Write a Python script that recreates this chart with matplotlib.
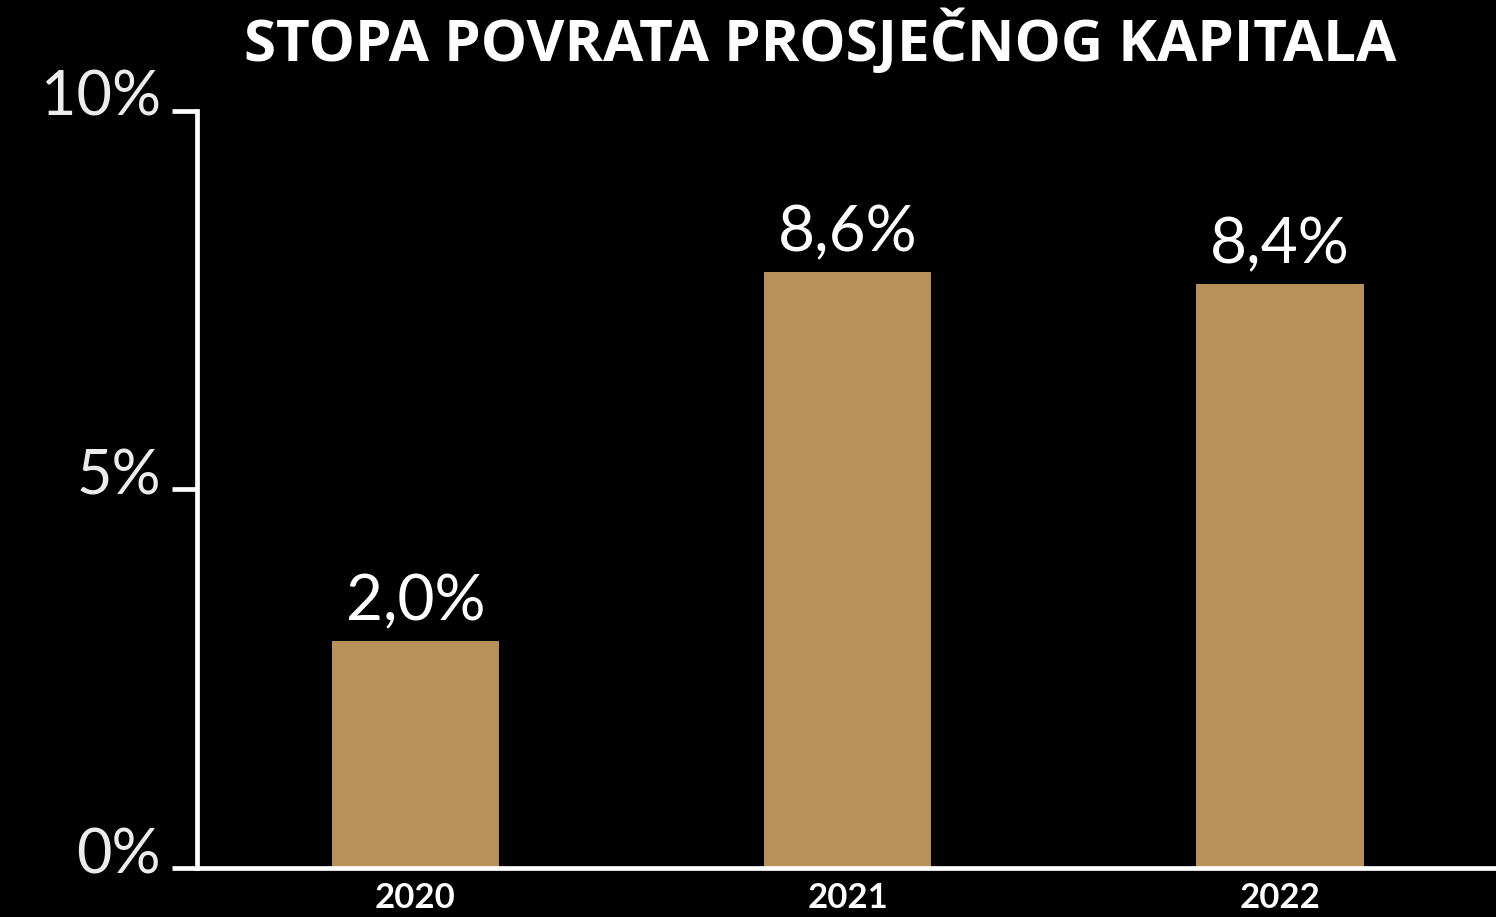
import matplotlib
matplotlib.use("Agg")
import matplotlib.pyplot as plt
from matplotlib.transforms import ScaledTranslation

years = ["2020", "2021", "2022"]
bar_heights = [3.0, 7.87, 7.71]          # bar heights as drawn (% of axis)
value_labels = ["2,0%", "8,6%", "8,4%"]  # printed labels
yticks = [0, 5, 10]
ytick_labels = ["0%", "5%", "10%"]
title = "STOPA POVRATA PROSJEČNOG KAPITALA"

W, H = 1496, 917
fig = plt.figure(figsize=(W / 100, H / 100), dpi=100, facecolor="black")
ax = fig.add_axes([197 / W, (917 - 868) / H, 1 - 197 / W, (868 - 110.5) / H])
ax.set_facecolor("black")

x = list(range(len(years)))
ax.bar(x, bar_heights, width=0.387, color="#B8905A", zorder=2)
ax.set_xlim(-0.505, 2.5)
ax.set_ylim(0, 10)

for s in ["top", "right"]:
    ax.spines[s].set_visible(False)
for s in ["left", "bottom"]:
    ax.spines[s].set_color("white")
    ax.spines[s].set_linewidth(3.4)
    ax.spines[s].set_zorder(3)

ax.set_yticks(yticks)
ax.set_yticklabels(ytick_labels)
ax.tick_params(axis="y", length=18, width=3.4, color="white", pad=8,
               labelcolor="#ececec", labelsize=44)
shift = ScaledTranslation(0, -5 / 100, fig.dpi_scale_trans)
for lbl in ax.get_yticklabels():
    lbl.set_family("Lato")
    lbl.set_fontweight("normal")
    lbl.set_verticalalignment("baseline")
    lbl.set_transform(lbl.get_transform() + shift)

ax.set_xticks(x)
ax.set_xticklabels(years)
ax.tick_params(axis="x", length=0, pad=10, labelcolor="white", labelsize=25)
for lbl in ax.get_xticklabels():
    lbl.set_family("Lato")
    lbl.set_fontweight("bold")

for xi, h, t in zip(x, bar_heights, value_labels):
    ax.annotate(t, (xi, h), xytext=(0, 7), textcoords="offset points",
                ha="center", va="bottom", color="white", fontsize=46,
                family="Lato", fontweight="normal")

fig.text(820 / W, 1 - 42 / H, title, ha="center", va="center", color="white",
         fontsize=42, family="Open Sans", fontweight="bold")

fig.savefig("out.png", dpi=100, facecolor="black")
